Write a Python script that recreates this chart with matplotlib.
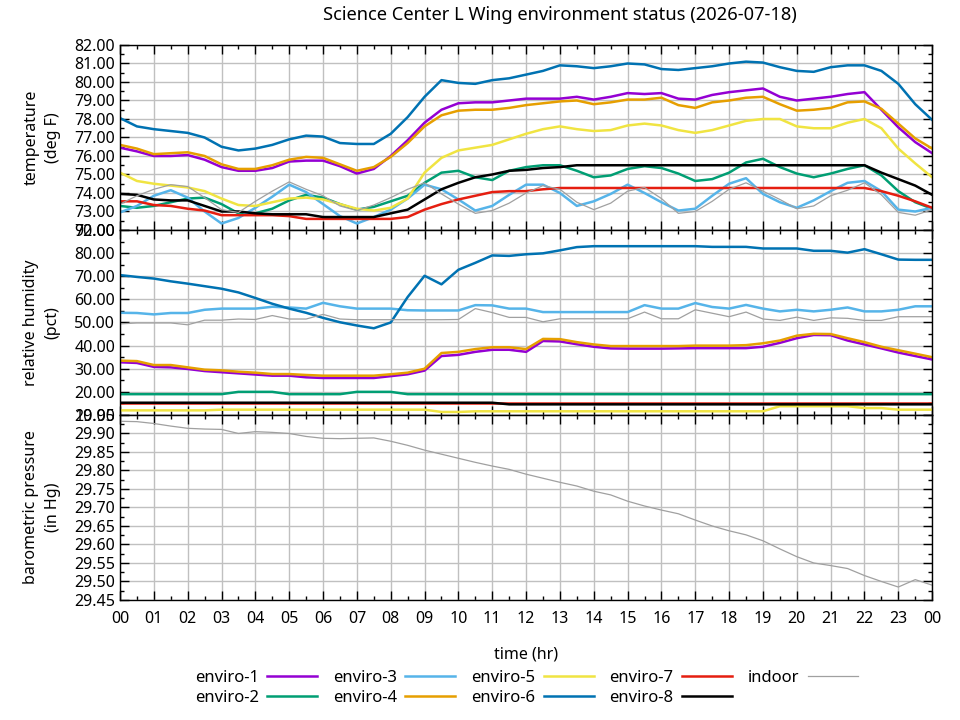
import matplotlib
matplotlib.use("Agg")
import matplotlib.pyplot as plt
from matplotlib.ticker import MultipleLocator, FuncFormatter, FormatStrFormatter

plt.rcParams['font.family'] = ['Noto Sans', 'DejaVu Sans']

# half-hour samples, 00:00 .. 24:00
hours = [i * 0.5 for i in range(49)]

names = ["enviro-1", "enviro-2", "enviro-3", "enviro-4", "enviro-5",
         "enviro-6", "enviro-7", "enviro-8", "indoor"]
colors = ["#9400d3", "#009e73", "#56b4e9", "#e69f00", "#f0e442",
          "#0072b2", "#e51e10", "#000000", "#a0a0a0"]

# temperature (deg F)
temp_e1 = [76.45, 76.25, 76.0, 76.0, 76.05, 75.8, 75.4, 75.2, 75.2, 75.35, 75.7, 75.75, 75.75,
           75.45, 75.05, 75.3, 76.0, 76.85, 77.8, 78.5, 78.85, 78.9, 78.9, 79.0, 79.1, 79.1,
           79.1, 79.2, 79.05, 79.2, 79.4, 79.35, 79.4, 79.1, 79.05, 79.3, 79.45, 79.55, 79.65,
           79.2, 79.0, 79.1, 79.2, 79.35, 79.45, 78.5, 77.55, 76.75, 76.15]
temp_e2 = [73.3, 73.2, 73.3, 73.5, 73.7, 73.75, 73.4, 72.9, 72.9, 73.15, 73.6, 73.9, 73.75,
           73.4, 73.1, 73.25, 73.55, 73.85, 74.55, 75.1, 75.2, 74.85, 74.7, 75.2, 75.4, 75.5,
           75.5, 75.2, 74.85, 74.95, 75.3, 75.45, 75.35, 75.05, 74.65, 74.75, 75.1, 75.65, 75.85,
           75.4, 75.05, 74.85, 75.05, 75.3, 75.5, 74.95, 74.1, 73.5, 73.15]
temp_e3 = [72.95, 73.3, 73.85, 74.15, 73.75, 73.0, 72.35, 72.65, 73.2, 73.8, 74.45, 74.05, 73.4,
           72.75, 72.35, 72.7, 73.1, 73.7, 74.45, 74.2, 73.65, 73.05, 73.3, 73.9, 74.45, 74.45,
           74.0, 73.3, 73.55, 73.95, 74.45, 74.0, 73.5, 73.05, 73.15, 73.85, 74.5, 74.8, 73.95,
           73.5, 73.2, 73.6, 74.1, 74.55, 74.65, 74.1, 73.1, 73.0, 73.2]
temp_e4 = [76.6, 76.4, 76.1, 76.15, 76.2, 76.0, 75.55, 75.3, 75.3, 75.5, 75.8, 75.95, 75.9,
           75.55, 75.2, 75.4, 75.95, 76.7, 77.6, 78.2, 78.45, 78.5, 78.5, 78.6, 78.75, 78.85,
           78.95, 79.0, 78.8, 78.9, 79.05, 79.05, 79.15, 78.75, 78.6, 78.9, 79.0, 79.15, 79.2,
           78.8, 78.45, 78.5, 78.6, 78.9, 78.95, 78.55, 77.75, 76.95, 76.4]
temp_e5 = [75.1, 74.65, 74.5, 74.4, 74.3, 74.1, 73.7, 73.35, 73.3, 73.5, 73.7, 73.75, 73.65,
           73.4, 73.15, 73.05, 73.2, 73.7, 75.1, 75.9, 76.3, 76.45, 76.6, 76.9, 77.2, 77.45,
           77.6, 77.45, 77.35, 77.4, 77.65, 77.75, 77.65, 77.4, 77.25, 77.4, 77.65, 77.9, 78.0,
           78.0, 77.6, 77.5, 77.5, 77.8, 78.0, 77.5, 76.4, 75.6, 74.85]
temp_e6 = [78.05, 77.6, 77.45, 77.35, 77.25, 77.0, 76.5, 76.3, 76.4, 76.6, 76.9, 77.1, 77.05,
           76.7, 76.65, 76.65, 77.2, 78.1, 79.2, 80.1, 79.95, 79.9, 80.1, 80.2, 80.4, 80.6,
           80.9, 80.85, 80.75, 80.85, 81.0, 80.95, 80.7, 80.65, 80.75, 80.85, 81.0, 81.1, 81.05,
           80.8, 80.6, 80.55, 80.8, 80.9, 80.9, 80.6, 79.9, 78.8, 77.95]
temp_e7 = [73.55, 73.55, 73.35, 73.3, 73.15, 73.05, 72.8, 72.8, 72.8, 72.8, 72.75, 72.6, 72.6,
           72.6, 72.6, 72.6, 72.6, 72.7, 73.1, 73.4, 73.65, 73.85, 74.05, 74.1, 74.1, 74.2,
           74.27, 74.27, 74.27, 74.27, 74.27, 74.27, 74.27, 74.27, 74.27, 74.27, 74.27, 74.27, 74.27,
           74.27, 74.27, 74.27, 74.27, 74.27, 74.27, 74.1, 73.85, 73.55, 73.2]
temp_e8 = [73.95, 73.9, 73.65, 73.6, 73.6, 73.3, 73.0, 73.0, 72.9, 72.85, 72.85, 72.85, 72.7,
           72.7, 72.7, 72.7, 72.9, 73.1, 73.65, 74.2, 74.55, 74.85, 75.0, 75.2, 75.25, 75.35,
           75.4, 75.5, 75.5, 75.5, 75.5, 75.5, 75.5, 75.5, 75.5, 75.5, 75.5, 75.5, 75.5,
           75.5, 75.5, 75.5, 75.5, 75.5, 75.5, 75.1, 74.75, 74.4, 73.9]
temp_in = [73.4, 73.85, 74.2, 74.45, 74.35, 73.75, 73.1, 72.95, 73.55, 74.1, 74.6, 74.2, 73.85,
           73.3, 73.05, 73.35, 73.75, 74.2, 74.55, 73.95, 73.4, 72.9, 73.05, 73.45, 74.0, 74.4,
           74.2, 73.5, 73.1, 73.45, 74.1, 74.3, 73.7, 72.9, 73.0, 73.55, 74.2, 74.55, 74.1,
           73.65, 73.15, 73.3, 73.85, 74.15, 74.55, 73.9, 72.95, 72.8, 73.1]

# relative humidity (pct)
hum_e1 = [32.8, 32.5, 30.8, 30.6, 29.9, 29.0, 28.5, 28.0, 27.5, 27.0, 27.0, 26.3, 26.0,
          26.0, 26.0, 26.0, 26.8, 27.6, 29.2, 35.5, 36.0, 37.3, 38.2, 38.2, 37.3, 42.0,
          41.8, 40.6, 39.5, 38.8, 38.7, 38.7, 38.7, 38.8, 38.9, 38.9, 38.9, 38.9, 39.5,
          41.2, 43.2, 44.6, 44.5, 42.2, 40.5, 38.8, 37.0, 35.5, 34.0]
hum_e2 = [19.0, 19.0, 19.0, 19.0, 19.0, 19.0, 19.0, 20.0, 20.0, 20.0, 19.0, 19.0, 19.0,
          19.0, 20.0, 20.0, 20.0, 19.0, 19.0, 19.0, 19.0, 19.0, 19.0, 19.0, 19.0, 19.0,
          19.0, 19.0, 19.0, 19.0, 19.0, 19.0, 19.0, 19.0, 19.0, 19.0, 19.0, 19.0, 19.0,
          19.0, 19.0, 19.0, 19.0, 19.0, 19.0, 19.0, 19.0, 19.0, 19.0]
hum_e3 = [54.2, 54.1, 53.5, 54.1, 54.1, 55.5, 56.0, 56.0, 56.0, 56.8, 56.5, 56.0, 58.5,
          57.0, 56.0, 56.0, 56.0, 55.3, 55.2, 55.2, 55.2, 57.5, 57.4, 56.0, 56.0, 54.5,
          54.5, 54.5, 54.5, 54.5, 54.5, 57.5, 56.0, 56.0, 58.4, 56.7, 56.0, 57.6, 56.0,
          54.8, 55.5, 54.8, 55.5, 56.5, 54.8, 54.8, 55.5, 57.0, 57.0]
hum_e4 = [33.5, 33.3, 31.6, 31.6, 30.6, 29.6, 29.3, 28.7, 28.3, 27.7, 27.7, 27.3, 27.0,
          27.0, 27.0, 27.0, 27.6, 28.3, 30.0, 36.8, 37.3, 38.5, 39.3, 39.3, 38.5, 42.9,
          42.8, 41.5, 40.5, 39.8, 39.8, 39.8, 39.8, 39.8, 40.0, 40.0, 40.0, 40.2, 41.0,
          42.2, 44.3, 45.1, 45.0, 43.2, 41.5, 39.5, 38.0, 36.5, 35.0]
hum_e5 = [12.0, 12.0, 12.0, 12.0, 12.0, 12.0, 12.3, 12.3, 12.3, 12.3, 12.3, 12.3, 12.3,
          12.3, 12.3, 12.3, 12.3, 12.3, 12.3, 11.3, 11.3, 11.6, 11.6, 11.6, 11.6, 11.6,
          11.6, 11.6, 11.6, 11.6, 11.6, 11.6, 11.6, 11.6, 11.6, 11.6, 11.6, 11.6, 11.6,
          13.8, 13.8, 13.8, 13.8, 13.8, 13.0, 13.0, 12.3, 12.3, 12.3]
hum_e6 = [70.5, 69.7, 69.0, 67.8, 66.8, 65.7, 64.6, 63.0, 60.6, 58.1, 56.0, 54.2, 52.0,
          50.1, 48.7, 47.5, 50.0, 61.0, 70.2, 66.5, 72.8, 75.8, 79.0, 78.8, 79.5, 79.9,
          81.2, 82.6, 83.0, 83.0, 83.0, 83.0, 83.0, 83.0, 83.0, 82.7, 82.7, 82.7, 82.0,
          82.0, 82.0, 81.0, 81.0, 80.2, 81.7, 79.5, 77.2, 77.1, 77.1]
hum_e7 = [15.3] * 49
hum_e8 = [15.3, 15.3, 15.3, 15.3, 15.3, 15.3, 15.3, 15.3, 15.3, 15.3, 15.3, 15.3, 15.3,
          15.3, 15.3, 15.3, 15.3, 15.3, 15.3, 15.3, 15.3, 15.3, 15.3, 14.6, 14.6, 14.6,
          14.6, 14.6, 14.6, 14.6, 14.6, 14.6, 14.6, 14.6, 14.6, 14.6, 14.6, 14.6, 14.6,
          14.6, 14.6, 14.6, 14.6, 14.6, 14.6, 14.6, 14.6, 14.6, 14.6]
hum_in = [49.4, 49.8, 49.8, 49.8, 49.0, 51.0, 51.0, 51.5, 51.3, 53.0, 51.5, 51.5, 53.5,
          51.5, 51.2, 51.2, 51.2, 51.2, 51.2, 51.2, 51.3, 56.0, 54.3, 52.2, 52.2, 50.3,
          51.6, 51.6, 51.6, 51.6, 51.6, 54.5, 51.6, 51.6, 55.5, 54.0, 52.5, 54.5, 51.5,
          50.9, 52.3, 50.9, 52.0, 51.8, 50.9, 50.9, 52.5, 52.5, 52.5]

# barometric pressure (in Hg), indoor sensor only
pres_in = [29.933, 29.932, 29.927, 29.92, 29.914, 29.912, 29.911, 29.90, 29.905, 29.903, 29.90,
           29.892, 29.887, 29.886, 29.887, 29.888, 29.879, 29.868, 29.855, 29.844, 29.833, 29.822,
           29.812, 29.803, 29.79, 29.779, 29.768, 29.758, 29.744, 29.734, 29.717, 29.704, 29.693,
           29.683, 29.666, 29.65, 29.637, 29.626, 29.61, 29.588, 29.567, 29.55, 29.543, 29.535,
           29.516, 29.50, 29.485, 29.505, 29.49]

temps = [temp_e1, temp_e2, temp_e3, temp_e4, temp_e5, temp_e6, temp_e7, temp_e8, temp_in]
hums = [hum_e1, hum_e2, hum_e3, hum_e4, hum_e5, hum_e6, hum_e7, hum_e8, hum_in]

fig = plt.figure(figsize=(9.6, 7.2), dpi=100)
gs = fig.add_gridspec(3, 1, hspace=0, left=0.125, right=0.971, top=0.9375, bottom=0.1667)
ax1 = fig.add_subplot(gs[0])
ax2 = fig.add_subplot(gs[1], sharex=ax1)
ax3 = fig.add_subplot(gs[2], sharex=ax1)

handles = []
for i, name in enumerate(names):
    lw = 0.9 if name == "indoor" else 1.8
    ln, = ax1.plot(hours, temps[i], color=colors[i], lw=lw, label=name)
    ax2.plot(hours, hums[i], color=colors[i], lw=lw)
    handles.append(ln)
ax3.plot(hours, pres_in, color=colors[-1], lw=0.9)

ax1.set_ylim(72, 82)
ax1.yaxis.set_major_locator(MultipleLocator(1))
ax1.yaxis.set_minor_locator(MultipleLocator(0.5))
ax2.set_ylim(10, 90)
ax2.yaxis.set_major_locator(MultipleLocator(10))
ax2.yaxis.set_minor_locator(MultipleLocator(5))
ax3.set_ylim(29.45, 29.95)
ax3.yaxis.set_major_locator(MultipleLocator(0.05))
ax3.yaxis.set_minor_locator(MultipleLocator(0.025))

ax3.set_xlim(0, 24)
ax3.xaxis.set_major_locator(MultipleLocator(1))
ax3.xaxis.set_minor_locator(MultipleLocator(0.5))
ax3.xaxis.set_major_formatter(FuncFormatter(lambda v, p: "%02d" % (int(round(v)) % 24)))

ylabels = ["temperature\n(deg F)", "relative humidity\n(pct)", "barometric pressure\n(in Hg)"]
for ax, lab in zip([ax1, ax2, ax3], ylabels):
    ax.yaxis.set_major_formatter(FormatStrFormatter("%.2f"))
    ax.grid(True, which="major", color="#c0c0c0", lw=1.0)
    ax.set_axisbelow(True)
    ax.tick_params(which="both", direction="in", top=True, right=True, labelsize=11.5, width=1)
    ax.tick_params(which="major", length=6.5)
    ax.tick_params(which="minor", length=3.2)
    for s in ax.spines.values():
        s.set_linewidth(1.0)
    ax.set_ylabel(lab, fontsize=11.5, linespacing=1.45)
    ax.yaxis.set_label_coords(-0.073, 0.5)
for ax in [ax1, ax2]:
    ax.tick_params(labelbottom=False)

ax3.tick_params(axis="x", pad=8)
ax3.set_xlabel("time (hr)", fontsize=11.5, labelpad=14)

fig.text(0.583, 0.979, "Science Center L Wing environment status (2026-07-18)",
         fontsize=13.2, ha="center", va="center")

fig.legend(handles, names, loc="upper center", bbox_to_anchor=(0.548, 0.079),
           ncol=5, frameon=False, markerfirst=False, fontsize=12,
           handlelength=3.0, handletextpad=0.5, columnspacing=0.95,
           labelspacing=0.25, borderaxespad=0)

fig.savefig("out.png", dpi=100)
